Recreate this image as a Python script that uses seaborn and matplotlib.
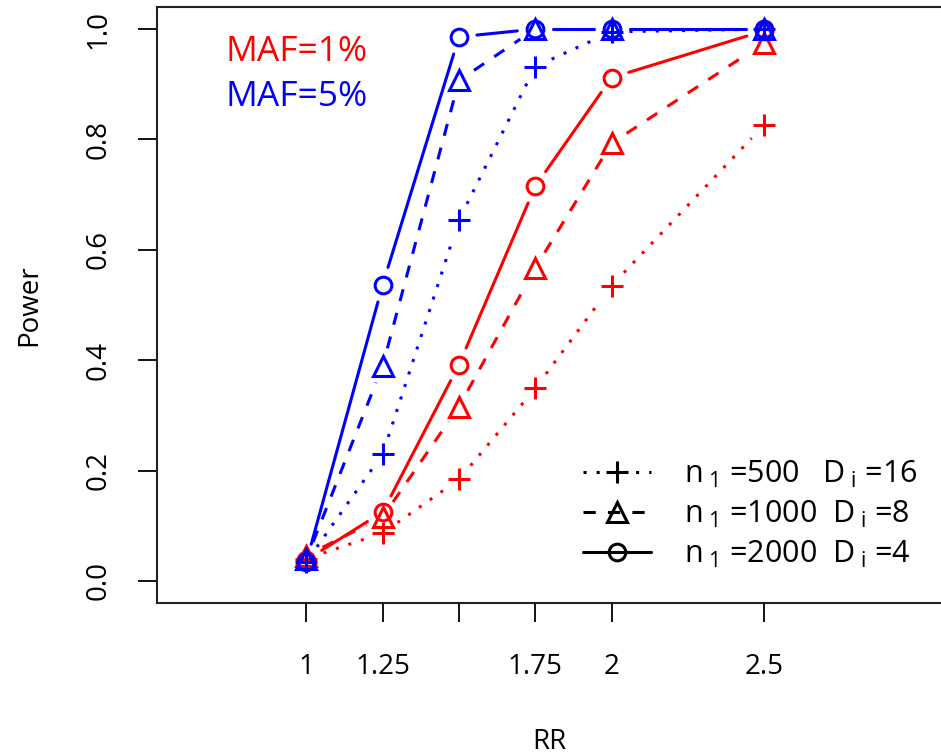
### Power vs relative risk for two allele frequencies ###
import matplotlib
matplotlib.use("Agg")
import matplotlib.pyplot as plt
from matplotlib.lines import Line2D
import seaborn as sns
import numpy as np
import pandas as pd

# relative risk values on the x axis
rr = [1, 1.25, 1.5, 1.75, 2, 2.5]
rr_labels = ["1", "1.25", "", "1.75", "2", "2.5"]

# power, MAF = 1% (red)
maf1_n500 = [0.040, 0.087, 0.184, 0.349, 0.535, 0.826]
maf1_n1000 = [0.046, 0.116, 0.316, 0.567, 0.793, 0.975]
maf1_n2000 = [0.038, 0.125, 0.392, 0.715, 0.912, 0.997]

# power, MAF = 5% (blue)
maf5_n500 = [0.035, 0.230, 0.654, 0.932, 0.995, 1.000]
maf5_n1000 = [0.040, 0.390, 0.907, 1.000, 1.000, 1.000]
maf5_n2000 = [0.035, 0.537, 0.986, 1.000, 1.000, 1.000]

legend_labels = [r"$n_{\;1}\;$=500   $D_{\;i}\;$=16",
                 r"$n_{\;1}\;$=1000  $D_{\;i}\;$=8",
                 r"$n_{\;1}\;$=2000  $D_{\;i}\;$=4"]

sns.set_style("white")
plt.rcParams["font.family"] = ["Open Sans", "DejaVu Sans"]
plt.rcParams["mathtext.fontset"] = "custom"
plt.rcParams["mathtext.rm"] = "Open Sans"
plt.rcParams["mathtext.it"] = "Open Sans"
plt.rcParams["mathtext.default"] = "regular"

# one style per sample size: linestyle, marker, marker size
styles = [
    ((0, (1, 3.3)), "+", 16),
    ((0, (4, 4)), "^", 15),
    ("-", "o", 12),
]

series = [
    ("red", [maf1_n500, maf1_n1000, maf1_n2000]),
    ("blue", [maf5_n500, maf5_n1000, maf5_n2000]),
]

fig = plt.figure(figsize=(9.41, 7.56), dpi=100)
ax = fig.add_axes([0.1668, 0.2024, 0.8332, 0.7883])
ax.set_xlim(0.51, 3.08)
ax.set_ylim(-0.04, 1.04)

lw = 2.2
gap = 18  # px left open around each point, like R's type="b"


def gapped(x, y):
    # cut each segment short of its end points, in screen space
    pts = ax.transData.transform(np.column_stack([x, y]))
    inv = ax.transData.inverted()
    rows = []
    for i in range(len(pts) - 1):
        d = pts[i + 1] - pts[i]
        length = np.hypot(*d)
        if length <= 2 * gap:
            continue
        u = d / length
        a, b = inv.transform(np.array([pts[i] + u * gap, pts[i + 1] - u * gap]))
        rows.append((i, a[0], a[1]))
        rows.append((i, b[0], b[1]))
    return pd.DataFrame(rows, columns=["seg", "RR", "Power"])


for color, groups in series:
    for vals, (ls, mk, ms) in zip(groups, styles):
        seg = gapped(rr, vals)
        sns.lineplot(data=seg, x="RR", y="Power", units="seg", estimator=None,
                     ax=ax, color=color, linestyle=ls, linewidth=lw, legend=False)
        df = pd.DataFrame({"RR": rr, "Power": vals})
        sns.lineplot(data=df, x="RR", y="Power", ax=ax, color=color,
                     linestyle="none", marker=mk, markersize=ms,
                     markerfacecolor="none", markeredgecolor=color,
                     markeredgewidth=lw, legend=False)

ax.set_xlim(0.51, 3.08)
ax.set_ylim(-0.04, 1.04)
ax.set_xticks(rr)
ax.set_xticklabels(rr_labels)
ax.set_yticks(np.arange(0, 1.01, 0.2))
ax.set_yticklabels([f"{v:.1f}" for v in np.arange(0, 1.01, 0.2)], rotation=90, va="center")
ax.tick_params(axis="both", bottom=True, left=True, direction="out", length=14,
               width=1.3, labelsize=20, colors="black")
ax.tick_params(axis="x", pad=22)
ax.tick_params(axis="y", pad=18)
for side in ["left", "bottom", "top"]:
    ax.spines[side].set_linewidth(1.5)
    ax.spines[side].set_color("#222222")
ax.spines["right"].set_visible(False)

ax.set_xlabel("RR", fontsize=20, labelpad=34, color="black")
ax.set_ylabel("Power", fontsize=20, labelpad=30, color="black")

ax.text(0.088, 0.9245, "MAF=1%", color="red", fontsize=25.5, transform=ax.transAxes, va="center")
ax.text(0.088, 0.849, "MAF=5%", color="blue", fontsize=25.5, transform=ax.transAxes, va="center")

handles = [Line2D([], [], color="black", linestyle=ls, linewidth=lw, marker=mk,
                  markersize=ms, markerfacecolor="none", markeredgewidth=lw)
           for ls, mk, ms in styles]
ax.legend(handles, legend_labels, loc="lower right", bbox_to_anchor=(1.006, 0.01),
          frameon=False, fontsize=22, handlelength=2.25, handletextpad=1.08,
          labelspacing=0.29, labelcolor="black")

plt.savefig("out.png", dpi=100)
